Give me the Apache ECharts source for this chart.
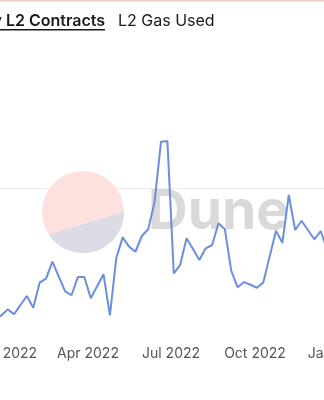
<!DOCTYPE html>
<html><head><meta charset="utf-8">
<script src="https://cdn.jsdelivr.net/npm/echarts@6/dist/echarts.min.js"></script>
<style>
html,body{margin:0;padding:0;width:324px;height:400px;overflow:hidden;background:#fff;}
#wrap{position:relative;width:324px;height:400px;overflow:hidden;}
#chart{position:absolute;left:-100px;top:0;width:524px;height:400px;}
</style></head><body>
<div id="wrap"><div id="chart"></div></div>
<script>
const weeks = ['2021-12-20','2021-12-27','2022-01-03','2022-01-10','2022-01-17','2022-01-24','2022-01-31',
'2022-02-07','2022-02-14','2022-02-21','2022-02-28','2022-03-07','2022-03-14','2022-03-21','2022-03-28',
'2022-04-04','2022-04-11','2022-04-18','2022-04-25','2022-05-02','2022-05-09','2022-05-16','2022-05-23','2022-05-30',
'2022-06-06','2022-06-13','2022-06-20','2022-06-27','2022-07-04','2022-07-11','2022-07-18','2022-07-25',
'2022-08-01','2022-08-08','2022-08-15','2022-08-22','2022-08-29','2022-09-05','2022-09-12','2022-09-19','2022-09-26',
'2022-10-03','2022-10-10','2022-10-17','2022-10-24','2022-10-31','2022-11-07','2022-11-14','2022-11-21','2022-11-28',
'2022-12-05','2022-12-12','2022-12-19'];
const contracts = [133,150,191,159,220,280,202,369,396,509,409,311,285,407,407,265,345,425,151,533,671,609,575,680,
725,909,1309,1313,431,487,665,593,520,598,620,765,725,448,338,373,355,335,369,542,715,635,953,720,782,720,658,713,587];
const tickDates = ['2021-10-01','2022-01-01','2022-04-01','2022-07-01','2022-10-01','2023-01-01','2023-04-01'];
const tabActive = 'Weekly L2 Contracts';
const tabOther = 'L2 Gas Used';
const watermarkText = 'Dune';
const MONTHS = ['Jan','Feb','Mar','Apr','May','Jun','Jul','Aug','Sep','Oct','Nov','Dec'];

const OFF = 100;               // chart div is shifted left by this many px
const DAY = 86400000;
const pxPerDay = 167 / 183;
const anchor = Date.UTC(2022, 3, 1);   // Apr 1 2022 sits at page x = 88
const xMin = anchor - (88 + OFF) / pxPerDay * DAY;
const xMax = anchor + (424 - 88) / pxPerDay * DAY;

// watermark circle geometry
const cx = 83 + OFF, cy = 212, r = 41;
const a0 = 0, a1 = 146.7 * Math.PI / 180;
const seg = [];
for (let i = 0; i <= 40; i++) {
  const a = a0 + (a1 - a0) * i / 40;
  seg.push([cx + r * Math.cos(a), cy + r * Math.sin(a)]);
}

const chart = echarts.init(document.getElementById('chart'), null, {renderer: 'canvas'});
chart.setOption({
  animation: false,
  backgroundColor: '#fff',
  grid: {left: 0, right: 0, top: 38, bottom: 62, containLabel: false, outerBoundsMode: 'none'},
  xAxis: {
    type: 'value', min: xMin, max: xMax,
    axisLine: {show: false}, axisTick: {show: false}, splitLine: {show: false},
    axisLabel: {
      customValues: tickDates.map(d => Date.parse(d)),
      formatter: v => { const d = new Date(v); return MONTHS[d.getUTCMonth()] + ' ' + d.getUTCFullYear(); },
      color: '#555', fontSize: 14, fontFamily: 'Inter', margin: 9, hideOverlap: false
    }
  },
  yAxis: {
    type: 'value', min: 0, max: 2000, interval: 1000,
    axisLine: {show: false}, axisTick: {show: false}, axisLabel: {show: false},
    splitLine: {show: true, lineStyle: {color: ['rgba(0,0,0,0)', '#ececec', 'rgba(0,0,0,0)'], width: 1}}
  },
  graphic: [
    {type: 'rect', z: 10, shape: {x: 0, y: 0, width: 524, height: 1.5}, style: {fill: '#f5c8c8'}},
    {type: 'text', z: 10, style: {text: tabActive, x: 105 + OFF, y: 21.5, textAlign: 'right', textVerticalAlign: 'middle',
      fontFamily: 'Inter', fontSize: 16, fontWeight: 600, fill: '#1a1a1a'}},
    {type: 'rect', z: 10, shape: {x: 0, y: 29, width: 105 + OFF, height: 1.5}, style: {fill: '#1a1a1a'}},
    {type: 'text', z: 10, style: {text: tabOther, x: 118 + OFF, y: 21.5, textAlign: 'left', textVerticalAlign: 'middle',
      fontFamily: 'Inter', fontSize: 16, fontWeight: 400, fill: '#1a1a1a'}},
    {type: 'circle', z: 1, shape: {cx: cx, cy: cy, r: r}, style: {fill: '#fde1de'}},
    {type: 'polygon', z: 1, shape: {points: seg}, style: {fill: '#dcdce7'}},
    {type: 'text', z: 1, style: {text: watermarkText, x: 148 + OFF, y: 212, textAlign: 'left', textVerticalAlign: 'middle',
      fontFamily: 'Inter', fontSize: 55, fontWeight: 700, fill: '#d9d9d9'}}
  ],
  series: [{
    type: 'line', z: 5, showSymbol: false, symbol: 'none',
    data: weeks.map((d, i) => [Date.parse(d), contracts[i]]),
    lineStyle: {color: '#6b8fdb', width: 2}
  }]
});
</script>
</body></html>
